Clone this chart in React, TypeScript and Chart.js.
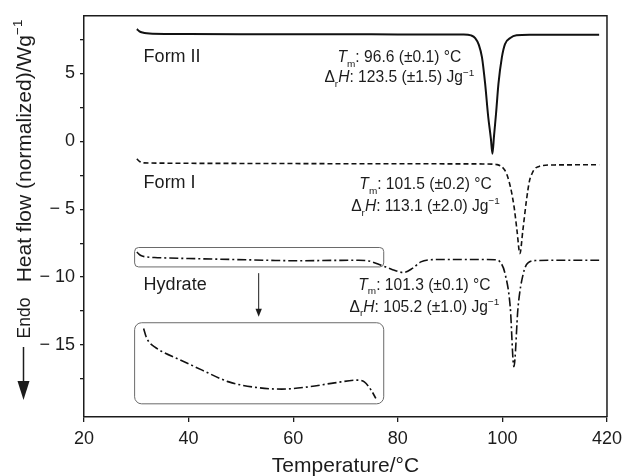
import React, { useEffect, useRef } from 'react';
import { Chart, registerables } from 'chart.js';

Chart.register(...registerables);

const FONT = '"Liberation Sans", Arial, Helvetica, sans-serif';
const INK = '#1c1c1c';

// ---------- data (temperature in °C, heat flow in W/g) ----------
const formIITemp = [30.1, 30.6, 31.2, 32.0, 33.1, 40, 50, 60, 70, 80, 88, 92.6, 94.0, 94.8, 95.5, 96.1, 96.7, 97.3, 97.8, 98.1, 98.4, 98.8, 99.25, 99.9, 100.5, 101.5, 102.7, 105.2, 110, 118.5];
const formIIFlow = [8.26, 8.1, 8.01, 7.95, 7.92, 7.9, 7.89, 7.88, 7.88, 7.87, 7.87, 7.87, 7.8, 7.6, 7.1, 6.18, 4.24, 1.77, 0.2, -0.92, 0.4, 2.1, 4.24, 6.18, 7.16, 7.6, 7.8, 7.84, 7.84, 7.84];

const formITemp = [30.1, 30.6, 31.2, 32.5, 40, 50, 60, 70, 80, 90, 97, 99.0, 99.8, 100.4, 100.8, 101.3, 101.8, 102.3, 102.8, 103.35, 103.9, 104.6, 105.2, 105.7, 106.2, 107.0, 107.8, 110, 118.5];
const formIFlow = [-1.29, -1.48, -1.58, -1.6, -1.62, -1.63, -1.64, -1.65, -1.65, -1.66, -1.67, -1.72, -1.85, -2.1, -2.39, -3.0, -3.84, -5.0, -6.6, -8.26, -6.6, -4.35, -2.88, -2.35, -2.02, -1.85, -1.78, -1.74, -1.73];

const hydrateTemp = [30.1, 30.5, 31.0, 31.9, 33.5, 35.7, 40, 48.3, 55, 61, 67.3, 72.5, 74.5, 76.8, 79, 81.1, 82.8, 84.4, 86.3, 90, 95, 98.6, 99.6, 100.5, 101.5, 102.2, 103.0, 104.0, 104.9, 106.5, 110, 118.5];
const hydrateFlow = [-8.15, -8.3, -8.43, -8.51, -8.56, -8.59, -8.63, -8.7, -8.76, -8.8, -8.77, -8.76, -8.82, -9.12, -9.45, -9.66, -9.36, -8.88, -8.72, -8.7, -8.7, -8.72, -8.9, -9.73, -12.19, -16.6, -12.19, -9.73, -8.95, -8.78, -8.76, -8.76];

// magnified detail of the hydrate baseline (inset)
const hydrateDetailTemp = [31.4, 31.9, 32.5, 33.5, 35.05, 38.2, 42.6, 47.7, 52.8, 57.8, 62.9, 67.9, 72.4, 73.6, 74.9, 75.8];
const hydrateDetailFlow = [-8.6, -8.634, -8.656, -8.674, -8.694, -8.724, -8.767, -8.814, -8.836, -8.843, -8.834, -8.818, -8.807, -8.814, -8.847, -8.88];

const xTickValues = [20, 40, 60, 80, 100, 120];
const xTickLabels = ['20', '40', '60', '80', '100', '420'];
const yTickValues = [-17.5, -15, -12.5, -10, -7.5, -5, -2.5, 0, 2.5, 5, 7.5];
const yTickLabels = ['', '\u2212 15', '', '\u2212 10', '', '\u2212 5', '', '0', '', '5', ''];

const seriesNames = ['Form II', 'Form I', 'Hydrate'];
const tmTexts = ['96.6 (\u00b10.1) \u00b0C', '101.5 (\u00b10.2) \u00b0C', '101.3 (\u00b10.1) \u00b0C'];
const dhTexts = ['123.5 (\u00b11.5) Jg', '113.1 (\u00b12.0) Jg', '105.2 (\u00b11.0) Jg'];

// ---------- layout (in data coordinates) ----------
const nameAnchors = [
  { x: 31.4, y: 6.3 },
  { x: 31.4, y: -2.99 },
  { x: 31.4, y: -10.44 },
];
const annoAnchors = [
  { x: 80.3, y1: 6.23, y2: 4.76 },
  { x: 85.3, y1: -3.1, y2: -4.71 },
  { x: 85.1, y1: -10.52, y2: -12.13 },
];
const zoomBox = { x0: 29.68, x1: 77.31, y0: -7.82, y1: -9.25 };
const insetBox = { x0: 29.68, x1: 77.31, y0: -13.36, y1: -19.33 };
const zoomArrow = { x: 53.4, y0: -9.71, y1: -12.92 };

type Seg = { t: string; it?: boolean; sub?: boolean; sup?: boolean };

function drawRich(ctx: CanvasRenderingContext2D, segs: Seg[], x: number, y: number, size: number, align: 'left' | 'center') {
  const small = size * 0.64;
  const fontOf = (s: Seg) => `${s.it ? 'italic ' : ''}${s.sub || s.sup ? small : size}px ${FONT}`;
  let total = 0;
  const ws = segs.map((s) => {
    ctx.font = fontOf(s);
    const w = ctx.measureText(s.t).width;
    total += w;
    return w;
  });
  let cx = align === 'center' ? x - total / 2 : x;
  const base = y + size * 0.358;
  ctx.textAlign = 'left';
  ctx.textBaseline = 'alphabetic';
  segs.forEach((s, i) => {
    ctx.font = fontOf(s);
    const dy = s.sub ? size * 0.3 : s.sup ? -size * 0.42 : 0;
    ctx.fillText(s.t, cx, base + dy);
    cx += ws[i];
  });
}

const overlayPlugin = {
  id: 'overlay',
  afterDatasetsDraw(chart: any) {
    const { ctx, chartArea: a, scales } = chart;
    const xs = scales.x;
    const ys = scales.y;
    const px = (v: number) => xs.getPixelForValue(v);
    const py = (v: number) => ys.getPixelForValue(v);
    ctx.save();

    // frame top / right
    ctx.strokeStyle = INK;
    ctx.lineWidth = 1.5;
    ctx.beginPath();
    ctx.moveTo(a.left, a.top);
    ctx.lineTo(a.right, a.top);
    ctx.lineTo(a.right, a.bottom);
    ctx.stroke();

    // zoom box, inset box
    ctx.strokeStyle = '#6a6a6a';
    ctx.lineWidth = 1;
    const rr = (b: any, r: number) => {
      const x0 = px(b.x0), x1 = px(b.x1), y0 = py(b.y0), y1 = py(b.y1);
      ctx.beginPath();
      (ctx as any).roundRect(x0, y0, x1 - x0, y1 - y0, r);
      ctx.stroke();
    };
    rr(zoomBox, 4);
    rr(insetBox, 7);

    // arrow
    const ax = px(zoomArrow.x);
    const ay0 = py(zoomArrow.y0);
    const ay1 = py(zoomArrow.y1);
    ctx.strokeStyle = INK;
    ctx.fillStyle = INK;
    ctx.lineWidth = 1;
    ctx.beginPath();
    ctx.moveTo(ax, ay0);
    ctx.lineTo(ax, ay1 - 6);
    ctx.stroke();
    ctx.beginPath();
    ctx.moveTo(ax, ay1);
    ctx.lineTo(ax - 3.2, ay1 - 8);
    ctx.lineTo(ax + 3.2, ay1 - 8);
    ctx.closePath();
    ctx.fill();

    // series names
    ctx.fillStyle = INK;
    seriesNames.forEach((n, i) => {
      drawRich(ctx, [{ t: n }], px(nameAnchors[i].x), py(nameAnchors[i].y), 18, 'left');
    });

    // annotations
    annoAnchors.forEach((p, i) => {
      drawRich(ctx, [{ t: 'T', it: true }, { t: 'm', sub: true }, { t: ': ' + tmTexts[i] }], px(p.x), py(p.y1), 15.6, 'center');
      drawRich(ctx, [{ t: '\u0394' }, { t: 'r', sub: true }, { t: 'H', it: true }, { t: ': ' + dhTexts[i] }, { t: '\u22121', sup: true }], px(p.x), py(p.y2), 15.6, 'center');
    });

    // y-axis title with Endo arrow
    ctx.save();
    ctx.translate(23, 151);
    ctx.rotate(-Math.PI / 2);
    drawRich(ctx, [{ t: 'Heat flow (normalized)/Wg' }, { t: '\u22121', sup: true }], 0, 0, 21, 'center');
    ctx.restore();
    ctx.save();
    ctx.translate(24, 318);
    ctx.rotate(-Math.PI / 2);
    drawRich(ctx, [{ t: 'Endo' }], 0, 0, 17.5, 'center');
    ctx.restore();
    ctx.lineWidth = 1.5;
    ctx.beginPath();
    ctx.moveTo(23.5, 347);
    ctx.lineTo(23.5, 384);
    ctx.stroke();
    ctx.beginPath();
    ctx.moveTo(23.5, 400);
    ctx.lineTo(17.5, 381);
    ctx.lineTo(29.5, 381);
    ctx.closePath();
    ctx.fill();

    ctx.restore();
  },
};

export default function App() {
  const ref = useRef<HTMLCanvasElement | null>(null);

  useEffect(() => {
    if (!ref.current) return;
    const toXY = (xs: number[], ys: number[]) => xs.map((x, i) => ({ x, y: ys[i] }));
    const lineBase = {
      borderColor: '#111',
      pointRadius: 0,
      fill: false,
      cubicInterpolationMode: 'monotone' as const,
    };
    const chart = new Chart(ref.current, {
      type: 'line',
      data: {
        datasets: [
          { ...lineBase, label: 'Form II', data: toXY(formIITemp, formIIFlow), borderWidth: 2 },
          { ...lineBase, label: 'Form I', data: toXY(formITemp, formIFlow), borderWidth: 1.6, borderDash: [5, 3] },
          { ...lineBase, label: 'Hydrate', data: toXY(hydrateTemp, hydrateFlow), borderWidth: 1.6, borderDash: [9, 3, 2, 3] },
          { ...lineBase, label: 'Hydrate detail', data: toXY(hydrateDetailTemp, hydrateDetailFlow), borderWidth: 1.6, borderDash: [9, 3, 2, 3], yAxisID: 'yi' },
        ],
      },
      options: {
        responsive: false,
        animation: false,
        devicePixelRatio: 1,
        layout: { padding: { left: 0, top: 15, right: 17, bottom: 0 } },
        plugins: { legend: { display: false }, tooltip: { enabled: false } },
        scales: {
          x: {
            type: 'linear',
            min: 20,
            max: 120,
            afterBuildTicks: (s: any) => { s.ticks = xTickValues.map((v) => ({ value: v })); },
            afterFit: (s: any) => { s.height = 59; },
            ticks: {
              autoSkip: false,
              maxRotation: 0,
              padding: 6,
              color: INK,
              font: { family: FONT, size: 18 },
              callback: (v: any, i: number) => xTickLabels[i],
            },
            grid: { display: true, drawOnChartArea: false, drawTicks: true, tickLength: 5, color: INK, lineWidth: 1.3 },
            border: { display: true, color: INK, width: 1.5 },
            title: {
              display: true,
              text: 'Temperature/\u00b0C',
              color: INK,
              font: { family: FONT, size: 21, lineHeight: 1 },
              padding: { top: 0, bottom: -1 },
            },
          },
          y: {
            type: 'linear',
            min: -20.3,
            max: 9.24,
            afterBuildTicks: (s: any) => { s.ticks = yTickValues.map((v) => ({ value: v })); },
            afterFit: (s: any) => { s.width = 84; },
            ticks: {
              autoSkip: false,
              padding: 5,
              color: INK,
              font: { family: FONT, size: 18 },
              callback: (v: any, i: number) => yTickLabels[i],
            },
            grid: { display: true, drawOnChartArea: false, drawTicks: true, tickLength: 4, color: INK, lineWidth: 1.3 },
            border: { display: true, color: INK, width: 1.5 },
          },
          yi: {
            type: 'linear',
            display: false,
            min: -8.9548,
            max: -7.3468,
          },
        },
      },
      plugins: [overlayPlugin],
    });
    return () => chart.destroy();
  }, []);

  return (
    <div style={{ position: 'fixed', left: 0, top: 0, width: 628, height: 476, background: '#fff' }}>
      <canvas ref={ref} width={628} height={476} style={{ display: 'block' }} />
    </div>
  );
}
